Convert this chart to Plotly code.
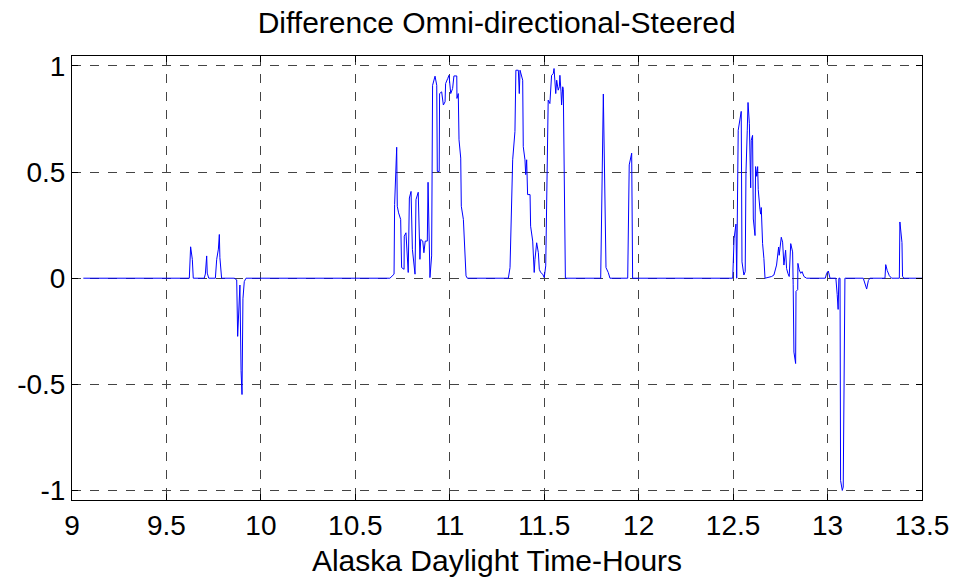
import plotly.graph_objects as go

# ---- data (Alaska Daylight Time, hours) ----
t_quiet_a = [9.06, 9.621]
d_quiet_a = [0, 0]

t_burst_1 = [9.628, 9.637, 9.642, 9.700, 9.706, 9.713, 9.716, 9.724, 9.759, 9.766, 9.775, 9.780,
             9.783, 9.792, 9.859, 9.872, 9.877, 9.886, 9.889, 9.895, 9.900, 9.905, 9.912, 9.921]
d_burst_1 = [0.148, 0.089, 0, 0, 0.02, 0.105, 0.024, 0, 0, 0.089, 0.137, 0.206,
             0.097, 0, 0, -0.008, -0.274, -0.129, -0.032, -0.435, -0.548, -0.097, -0.016, 0]

t_burst_2 = [10.683, 10.705, 10.708, 10.719, 10.722, 10.729, 10.740, 10.745, 10.758, 10.759, 10.768,
             10.780, 10.786, 10.795, 10.802, 10.816, 10.821, 10.833, 10.842, 10.846, 10.857, 10.863,
             10.870, 10.881, 10.885, 10.895, 10.904, 10.909, 10.916, 10.922, 10.931, 10.934, 10.944,
             10.946, 10.957, 10.966, 10.975, 10.978, 10.989, 10.996, 11.005, 11.015, 11.022, 11.037,
             11.038, 11.045, 11.049, 11.058, 11.061, 11.072, 11.086, 11.093]
d_burst_2 = [0, 0.019, 0.347, 0.617, 0.339, 0.308, 0.277, 0.05, 0.042, 0.198, 0.214,
             0.027, 0.378, 0.409, 0.136, 0.019, 0.370, 0.405, 0.089, 0.183, 0.175, 0.120,
             0.175, 0.175, 0.452, 0.003, 0.105, 0.909, 0.930, 0.952, 0.909, 0.503, 0.503,
             0.870, 0.878, 0.816, 0.831, 0.917, 0.941, 0.956, 0.870, 0.894, 0.953, 0.953,
             0.847, 0.870, 0.652, 0.566, 0.339, 0.277, 0.011, 0]

t_burst_3 = [11.310, 11.319, 11.333, 11.345, 11.350, 11.363, 11.368, 11.372, 11.386, 11.389, 11.398,
             11.402, 11.407, 11.412, 11.425, 11.428, 11.439, 11.442, 11.447, 11.451, 11.460, 11.469,
             11.474, 11.481, 11.492, 11.500, 11.508, 11.521, 11.530, 11.539, 11.548, 11.552, 11.561,
             11.566, 11.574, 11.580, 11.583, 11.589, 11.592, 11.598, 11.601, 11.612]
d_burst_3 = [0, 0.05, 0.558, 0.691, 0.980, 0.980, 0.870, 0.980, 0.933, 0.620, 0.558,
             0.488, 0.558, 0.394, 0.394, 0.245, 0.175, 0.089, 0.027, 0.089, 0.167, 0.120,
             0.042, 0.027, 0.019, 0.003, 0.058, 0.839, 0.823, 0.956, 0.964, 0.988, 0.870,
             0.933, 0.886, 0.902, 0.956, 0.878, 0.816, 0.902, 0.89, 0]

t_burst_4 = [11.799, 11.813, 11.827, 11.839, 11.848, 11.942, 11.950, 11.963, 11.968]
d_burst_4 = [0, 0.868, 0.05, 0.027, 0, 0, 0.534, 0.589, 0]

t_burst_5 = [12.498, 12.505, 12.515, 12.519, 12.527, 12.536, 12.543, 12.547, 12.557, 12.564, 12.568,
             12.575, 12.579, 12.586, 12.593, 12.596, 12.603, 12.607, 12.616, 12.619, 12.625, 12.630,
             12.633, 12.642, 12.646, 12.649, 12.656, 12.663, 12.669, 12.704, 12.716, 12.730, 12.741,
             12.744, 12.748, 12.755, 12.762, 12.769, 12.778, 12.783, 12.790, 12.797, 12.805, 12.815,
             12.818, 12.822, 12.831, 12.833, 12.842, 12.843, 12.850, 12.858, 12.865, 12.875, 12.889]
d_burst_5 = [0, 0.186, 0.255, 0, 0.697, 0.759, 0.786, 0.077, 0.015, 0.031, 0.495,
             0.697, 0.828, 0.728, 0.426, 0.650, 0.673, 0.279, 0.201, 0.526, 0.480, 0.526,
             0.418, 0.325, 0.302, 0.333, 0.163, 0.093, 0, 0.008, 0.015, 0.062, 0.147,
             0.108, 0.155, 0.193, 0.170, 0.062, 0.132, 0.046, 0.023, 0.008, 0.163, 0.124,
             -0.031, -0.348, -0.402, -0.062, -0.054, 0.070, 0.039, 0.023, 0.031, 0.008, 0]

t_burst_6 = [12.988, 12.995, 13.004, 13.013, 13.044, 13.051, 13.056, 13.060, 13.066, 13.069, 13.078,
             13.083, 13.092, 13.189, 13.207, 13.216, 13.224, 13.304, 13.308, 13.316, 13.327, 13.339,
             13.380, 13.383, 13.394, 13.397, 13.404, 13.5]
d_burst_6 = [0, 0.023, 0.034, 0, 0, -0.077, -0.147, 0, 0, -0.953, -1.0,
             -0.984, 0, 0, -0.051, -0.011, 0, 0, 0.064, 0.036, 0.012, 0,
             0, 0.265, 0.168, 0.009, 0, 0]

x_ticks = [9, 9.5, 10, 10.5, 11, 11.5, 12, 12.5, 13, 13.5]
x_tick_labels = ["9", "9.5", "10", "10.5", "11", "11.5", "12", "12.5", "13", "13.5"]
y_ticks = [-1, -0.5, 0, 0.5, 1]
y_tick_labels = ["-1", "-0.5", "0", "0.5", "1"]

time_hours = (t_quiet_a + t_burst_1 + t_burst_2 + t_burst_3 + t_burst_4 + t_burst_5 + t_burst_6)
difference = (d_quiet_a + d_burst_1 + d_burst_2 + d_burst_3 + d_burst_4 + d_burst_5 + d_burst_6)

FONT = "Liberation Sans, Arial, sans-serif"

fig = go.Figure()
fig.add_trace(go.Scatter(x=time_hours, y=difference, mode="lines",
                         line=dict(color="#0000FF", width=1), showlegend=False))

axis_common = dict(showline=True, linecolor="black", linewidth=1, mirror="ticks",
                   ticks="inside", ticklen=6, tickcolor="black",
                   showgrid=True, gridcolor="#444444", griddash="dash", gridwidth=1,
                   zeroline=False, automargin=False,
                   tickfont=dict(family=FONT, size=28, color="black"))

fig.update_layout(
    width=972, height=584,
    margin=dict(l=72, r=50, t=56, b=84),
    paper_bgcolor="white", plot_bgcolor="white",
    title=dict(text="Difference Omni-directional-Steered", x=0.511, xanchor="center",
               y=1 - 22 / 584, yanchor="middle", yref="container",
               font=dict(family=FONT, size=30, color="black")),
    xaxis=dict(range=[9, 13.5], tickvals=x_ticks, ticktext=x_tick_labels,
               title=dict(text="Alaska Daylight Time-Hours", standoff=10,
                          font=dict(family=FONT, size=30, color="black")),
               **axis_common),
    yaxis=dict(range=[-1.045, 1.047], tickvals=y_ticks, ticktext=y_tick_labels,
               **axis_common),
)

fig.write_html("out.html", config={"displayModeBar": False},
               post_script="document.body.style.margin='0';document.body.style.padding='0';")
